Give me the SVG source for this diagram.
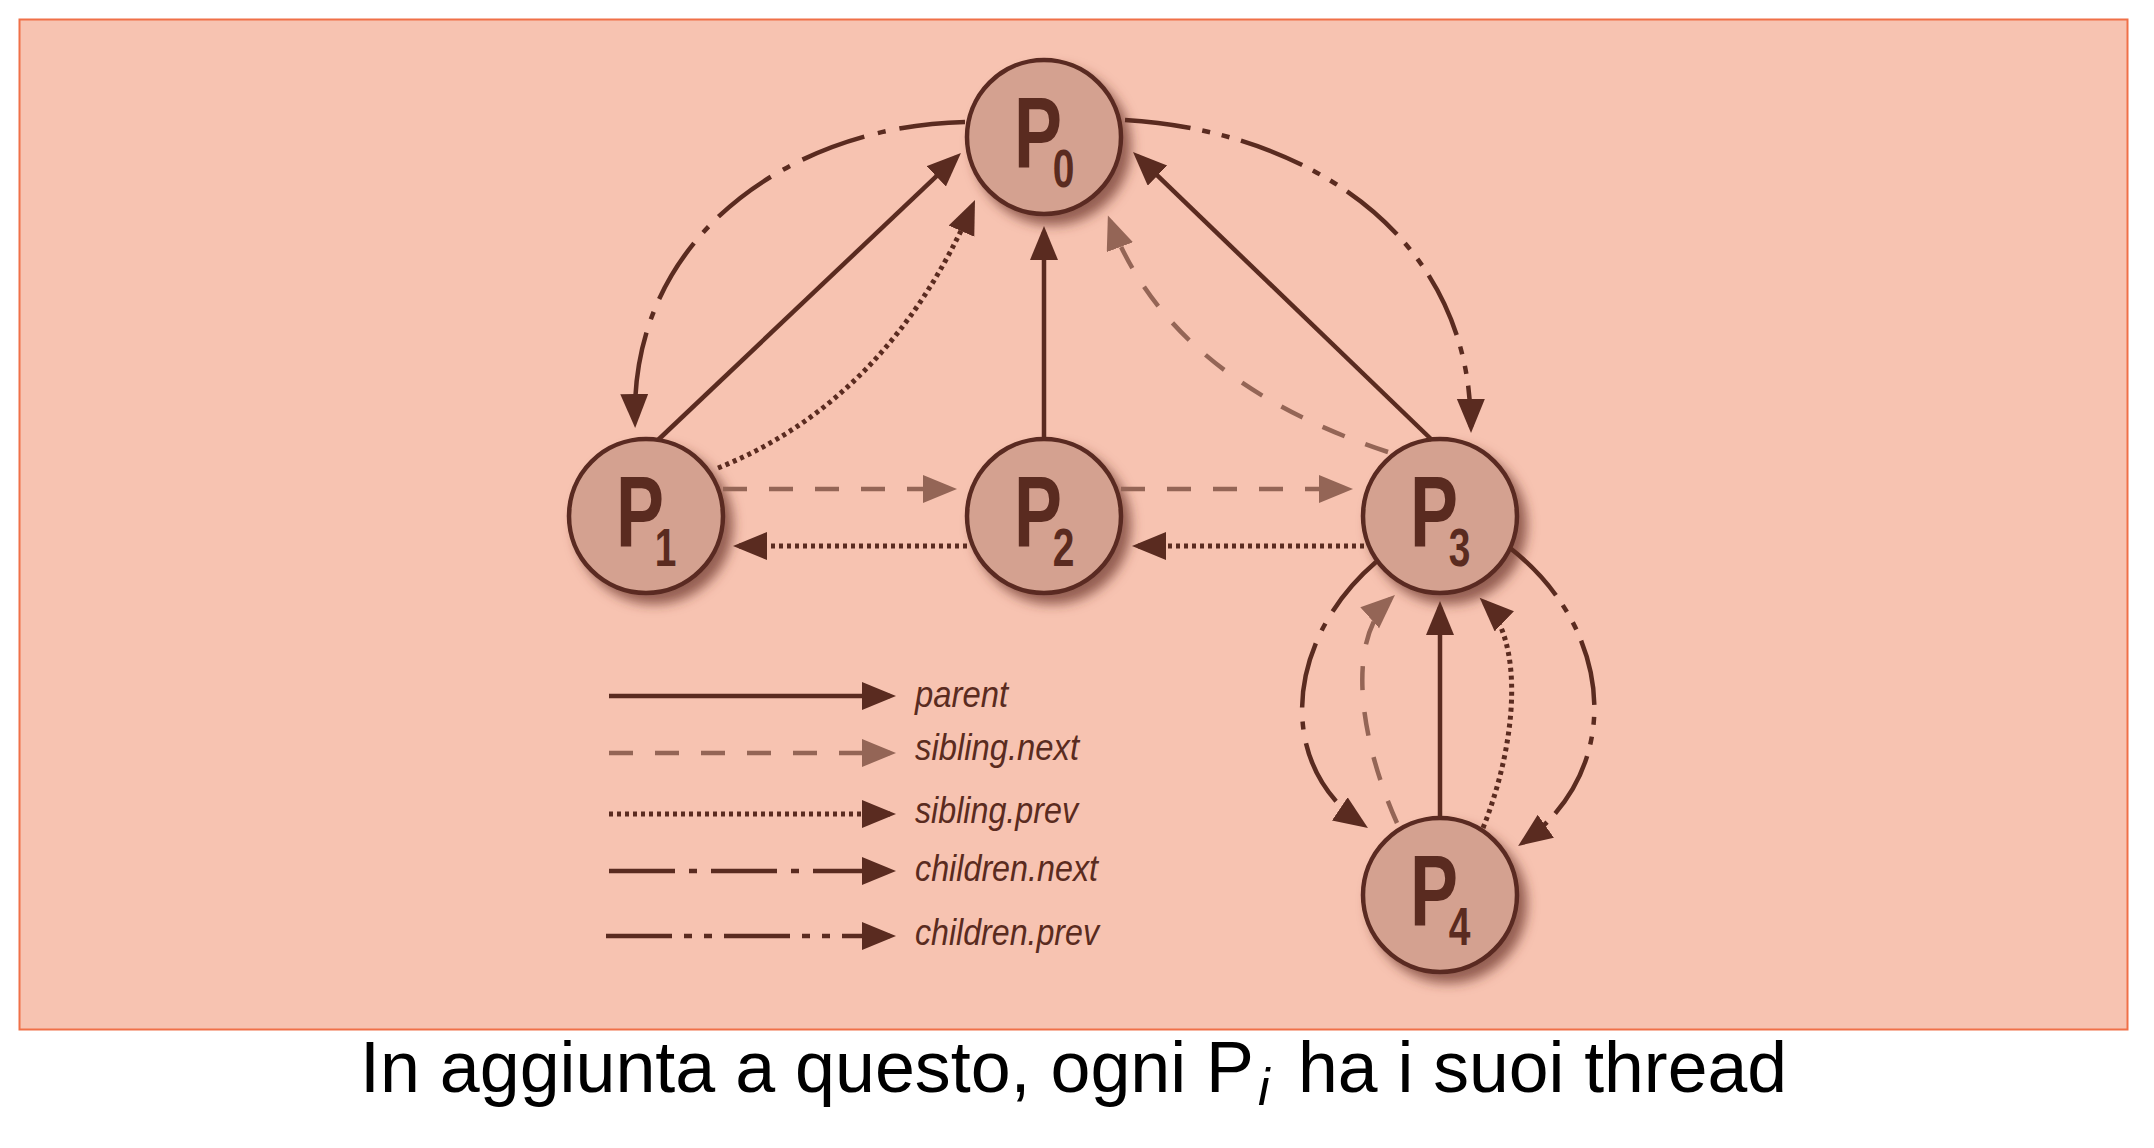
<svg xmlns="http://www.w3.org/2000/svg" width="2154" height="1148" viewBox="0 0 2154 1148">
  <style>
    .node circle { fill: #d4a190; stroke: #5a2b20; stroke-width: 4.5; filter: url(#shadow); }
    .node text { fill: #5a2b20; font-family: "Liberation Sans", Arial, sans-serif; font-weight: bold; font-size: 100px; }
    .sub { font-size: 54px; }
    .c { fill: none; stroke: #5a2b20; stroke-width: 4.5; }
    .parent { marker-end: url(#ah); }
    .snext { stroke: #946556; stroke-dasharray: 24 22; marker-end: url(#ahl); }
    .sprev { stroke-width: 5; stroke-dasharray: 4 4; marker-end: url(#ah); }
    .cnext { stroke-dasharray: 66 14 8 14; marker-end: url(#ah); }
    .cprev { stroke-dasharray: 66 12 8 12 8 12; marker-end: url(#ah); }
    .lbl { fill: #5a2b20; font-family: "Liberation Sans", Arial, sans-serif; font-style: italic; font-size: 36px; }
    .cap { fill: #000; font-family: "Liberation Sans", "DejaVu Sans", sans-serif; font-size: 72px; }
  </style>
  <defs>
    <filter id="shadow" x="-30%" y="-30%" width="170%" height="170%">
      <feDropShadow dx="8" dy="9" stdDeviation="6" flood-color="#6b3426" flood-opacity="0.7"/>
    </filter>
    <marker id="ah" markerUnits="userSpaceOnUse" markerWidth="36" markerHeight="30" refX="28" refY="14" orient="auto">
      <path d="M0,0 L34,14 L0,28 z" fill="#5a2b20"/>
    </marker>
    <marker id="ahl" markerUnits="userSpaceOnUse" markerWidth="36" markerHeight="30" refX="28" refY="14" orient="auto">
      <path d="M0,0 L34,14 L0,28 z" fill="#946556"/>
    </marker>
  </defs>

  <rect x="19.5" y="19.5" width="2108" height="1010" fill="#f7c3b1" stroke="#f07048" stroke-width="2"/>

  <g id="node-p0" class="node">
    <circle cx="1044" cy="137" r="77"/>
    <text transform="translate(1014,167) scale(0.72,1)">P<tspan class="sub" dx="-13" dy="20">0</tspan></text>
  </g>
  <g id="node-p1" class="node">
    <circle cx="646" cy="516" r="77"/>
    <text transform="translate(616,546) scale(0.72,1)">P<tspan class="sub" dx="-13" dy="20">1</tspan></text>
  </g>
  <g id="node-p2" class="node">
    <circle cx="1044" cy="516" r="77"/>
    <text transform="translate(1014,546) scale(0.72,1)">P<tspan class="sub" dx="-13" dy="20">2</tspan></text>
  </g>
  <g id="node-p3" class="node">
    <circle cx="1440" cy="516" r="77"/>
    <text transform="translate(1410,546) scale(0.72,1)">P<tspan class="sub" dx="-13" dy="20">3</tspan></text>
  </g>
  <g id="node-p4" class="node">
    <circle cx="1440" cy="895" r="77"/>
    <text transform="translate(1410,925) scale(0.72,1)">P<tspan class="sub" dx="-13" dy="20">4</tspan></text>
  </g>

  <g id="connectors">
    <!-- parent -->
    <path class="c parent" d="M658,440 L956.6,157.1"/>
    <path class="c parent" d="M1044,439 L1044,232"/>
    <path class="c parent" d="M1432,440 L1137.3,156.2"/>
    <path class="c parent" d="M1440,818 L1440,607"/>
    <!-- sibling.next -->
    <path class="c snext" d="M723,489 L951,489"/>
    <path class="c snext" d="M1121,489 L1347,489"/>
    <path class="c snext" d="M1388,452 Q1170,380 1110,221"/>
    <path class="c snext" d="M1397,823 C1360,740 1345,640 1390.5,599"/>
    <!-- sibling.prev -->
    <path class="c sprev" d="M967,546 L739,546"/>
    <path class="c sprev" d="M1364,546 L1138,546"/>
    <path class="c sprev" d="M718,468 Q888,400 972.6,205.5"/>
    <path class="c sprev" d="M1483,828 C1518,740 1524,640 1484,602"/>
    <!-- children.next -->
    <path class="c cnext" d="M965,122 C800,125 630,230 635,422"/>
    <path class="c cnext" d="M1376,562 C1285,640 1275,765 1363,824.6"/>
    <!-- children.prev -->
    <path class="c cprev" d="M1125,120 C1300,130 1470,230 1471,427"/>
    <path class="c cprev" d="M1510,548 C1615,630 1625,770 1523,842.5"/>
  </g>

  <g id="legend">
    <path class="c parent" d="M609,696 L890,696"/>
    <path class="c snext" d="M609,753 L890,753"/>
    <path class="c sprev" d="M609,814 L890,814"/>
    <path class="c cnext" d="M609,871 L890,871"/>
    <path class="c cprev" d="M606,936 L890,936"/>
    <text class="lbl" x="915" y="707" textLength="93" lengthAdjust="spacingAndGlyphs">parent</text>
    <text class="lbl" x="915" y="760" textLength="164" lengthAdjust="spacingAndGlyphs">sibling.next</text>
    <text class="lbl" x="915" y="823" textLength="163" lengthAdjust="spacingAndGlyphs">sibling.prev</text>
    <text class="lbl" x="915" y="881" textLength="183" lengthAdjust="spacingAndGlyphs">children.next</text>
    <text class="lbl" x="915" y="945" textLength="184" lengthAdjust="spacingAndGlyphs">children.prev</text>
  </g>

  <g id="caption">
    <text class="cap" x="360" y="1092"><tspan textLength="894" lengthAdjust="spacingAndGlyphs">In aggiunta a questo, ogni P</tspan><tspan x="1258" dy="13" font-size="52" font-style="italic">i</tspan><tspan x="1298" dy="-13" textLength="489" lengthAdjust="spacingAndGlyphs">ha i suoi thread</tspan></text>
  </g>
</svg>
